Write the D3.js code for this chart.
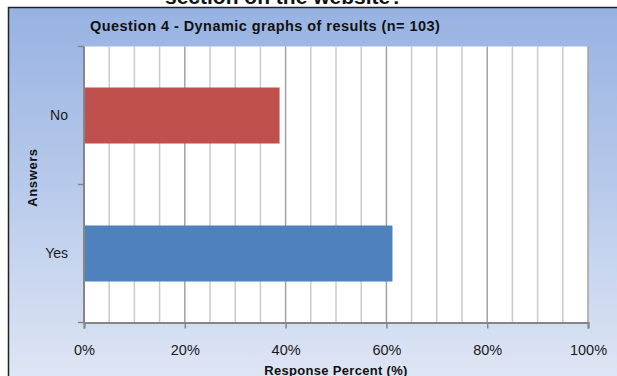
<!DOCTYPE html>
<html>
<head>
<meta charset="utf-8">
<script src="https://cdn.jsdelivr.net/npm/d3@7"></script>
<style>
  html, body { margin: 0; padding: 0; background: #ffffff; }
  svg { display: block; }
  text { font-family: "Liberation Sans", Arial, sans-serif; }
</style>
</head>
<body>
<svg id="chart" width="617" height="376"></svg>
<script>
// Survey answers and their share of the 103 responses
const categories = ["No", "Yes"];
const responsePercent = [38.8, 61.2];
const barColors = ["#c0504d", "#4f81bd"];
const tickValues = [0, 20, 40, 60, 80, 100];
const tickLabels = ["0%", "20%", "40%", "60%", "80%", "100%"];
const minorStep = 5;

const svg = d3.select("#chart");
const W = 617, H = 376;

// Panel background gradient
const defs = svg.append("defs");
const grad = defs.append("linearGradient")
  .attr("id", "panelGrad").attr("x1", 0).attr("y1", 0).attr("x2", 0).attr("y2", 1);
grad.append("stop").attr("offset", "0%").attr("stop-color", "#97b2e2");
grad.append("stop").attr("offset", "55%").attr("stop-color", "#bccdec");
grad.append("stop").attr("offset", "100%").attr("stop-color", "#dee5f4");

// Heading of the slide, partly cut off at the top
svg.append("text")
  .attr("x", 165).attr("y", 4)
  .attr("font-size", 21).attr("font-weight", "bold").attr("fill", "#111")
  .text("section on the website?");

svg.append("rect")
  .attr("x", 8).attr("y", 7).attr("width", W - 8).attr("height", H - 7)
  .attr("fill", "url(#panelGrad)");
svg.append("path")
  .attr("d", `M8.5,${H} V7.5 H${W}`)
  .attr("fill", "none").attr("stroke", "#222").attr("stroke-width", 1.5);

// Plot area
const plotL = 84, plotR = 588, plotT = 46.5, plotB = 322.5;

const x = d3.scaleLinear().domain([0, 100]).range([plotL, plotR]);
const y = d3.scaleBand().domain(categories).range([plotT, plotB])
  .paddingInner(0.594).paddingOuter(0.297);

svg.append("rect")
  .attr("x", plotL).attr("y", plotT).attr("width", plotR - plotL).attr("height", plotB - plotT)
  .attr("fill", "#ffffff");

// Vertical gridlines every 5%, darker at the labelled 20% steps
const gridVals = d3.range(minorStep, 100 + 0.001, minorStep);
svg.append("g").selectAll("line")
  .data(gridVals)
  .join("line")
  .attr("x1", d => x(d)).attr("x2", d => x(d))
  .attr("y1", plotT).attr("y2", plotB)
  .attr("stroke", d => (d % 20 === 0 ? "#a3a3a3" : "#cacaca"))
  .attr("stroke-width", 1.5);

// Bars
svg.append("g").selectAll("rect")
  .data(categories.map((c, i) => ({ c, v: responsePercent[i], color: barColors[i] })))
  .join("rect")
  .attr("x", x(0))
  .attr("y", d => y(d.c))
  .attr("width", d => x(d.v) - x(0))
  .attr("height", y.bandwidth())
  .attr("fill", d => d.color);

// Value axis
const xAxis = d3.axisBottom(x)
  .tickValues(tickValues)
  .tickFormat((d, i) => tickLabels[i])
  .tickSize(6).tickPadding(16);
const gx = svg.append("g").attr("transform", `translate(0,${plotB})`).call(xAxis);
gx.select(".domain").attr("stroke", "#868686").attr("stroke-width", 2);
gx.selectAll(".tick line").attr("stroke", "#868686").attr("stroke-width", 1.5);
gx.selectAll(".tick text").attr("font-size", 14.5).attr("fill", "#1a1a1a")
  .attr("font-family", "'Liberation Sans', Arial, sans-serif");

// Category axis with ticks on the band boundaries
svg.append("line")
  .attr("x1", plotL).attr("x2", plotL).attr("y1", plotT).attr("y2", plotB + 1)
  .attr("stroke", "#868686").attr("stroke-width", 2);
const boundaries = d3.range(categories.length + 1).map(i => plotT + i * y.step());
svg.append("g").selectAll("line")
  .data(boundaries)
  .join("line")
  .attr("x1", plotL - 6).attr("x2", plotL)
  .attr("y1", d => d).attr("y2", d => d)
  .attr("stroke", "#868686").attr("stroke-width", 1.5);
svg.append("g").selectAll("text")
  .data(categories)
  .join("text")
  .attr("x", plotL - 16)
  .attr("y", d => y(d) + y.bandwidth() / 2)
  .attr("dy", "0.35em")
  .attr("text-anchor", "end")
  .attr("font-size", 14).attr("fill", "#1a1a1a")
  .text(d => d);

// Titles
svg.append("text")
  .attr("x", 90).attr("y", 31)
  .attr("font-size", 14.5).attr("font-weight", "bold").attr("fill", "#111")
  .attr("letter-spacing", 0.45)
  .text("Question 4 - Dynamic graphs of results (n= 103)");

svg.append("text")
  .attr("transform", `translate(37,${(plotT + plotB) / 2 - 7}) rotate(-90)`)
  .attr("text-anchor", "middle")
  .attr("font-size", 13).attr("font-weight", "bold").attr("fill", "#111")
  .attr("letter-spacing", 0.6)
  .text("Answers");

svg.append("text")
  .attr("x", (plotL + plotR) / 2).attr("y", 375)
  .attr("text-anchor", "middle")
  .attr("font-size", 13).attr("font-weight", "bold").attr("fill", "#111")
  .attr("letter-spacing", 0.3)
  .text("Response Percent (%)");
</script>
</body>
</html>
